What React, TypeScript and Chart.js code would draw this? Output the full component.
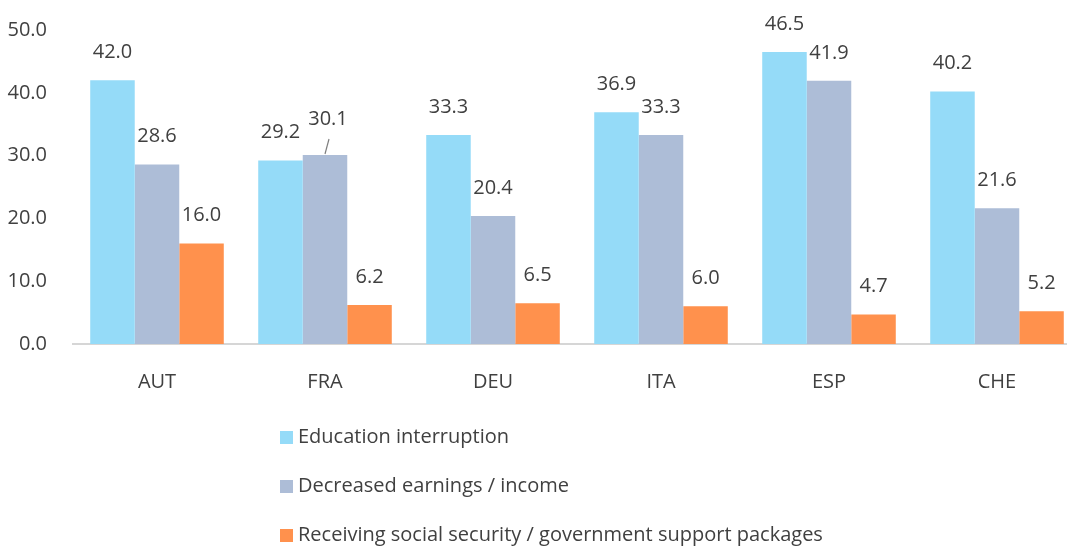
import React, { useEffect, useRef } from "react";
import { Chart, registerables } from "chart.js";

Chart.register(...registerables);

const categories = ["AUT", "FRA", "DEU", "ITA", "ESP", "CHE"];
const educationInterruption = [42.0, 29.2, 33.3, 36.9, 46.5, 40.2];
const decreasedEarnings = [28.6, 30.1, 20.4, 33.3, 41.9, 21.6];
const socialSecurity = [16.0, 6.2, 6.5, 6.0, 4.7, 5.2];
const seriesNames = [
  "Education interruption",
  "Decreased earnings / income",
  "Receiving social security / government support packages",
];
const seriesColors = ["#95dbf8", "#adbdd7", "#ff914d"];
const yTicks = [0, 10, 20, 30, 40, 50];

const FONT = "'Open Sans', sans-serif";
const TEXT = "#404040";

const labelsPlugin = {
  id: "valueLabels",
  afterDatasetsDraw(chart: any) {
    const ctx = chart.ctx;
    ctx.save();
    ctx.font = `20px ${FONT}`;
    ctx.fillStyle = TEXT;
    ctx.textAlign = "center";
    ctx.textBaseline = "middle";
    chart.data.datasets.forEach((ds: any, di: number) => {
      const meta = chart.getDatasetMeta(di);
      meta.data.forEach((bar: any, i: number) => {
        const v = ds.data[i];
        let x = bar.x;
        let y = bar.y - 28;
        // leader-line label (FRA, decreased earnings)
        if (di === 1 && i === 1) {
          x = bar.x + 3;
          y = bar.y - 36;
          ctx.save();
          ctx.strokeStyle = "#7f7f7f";
          ctx.lineWidth = 1.2;
          ctx.beginPath();
          ctx.moveTo(bar.x + 4, bar.y - 16);
          ctx.lineTo(bar.x, bar.y - 1);
          ctx.stroke();
          ctx.restore();
        }
        ctx.fillText(v.toFixed(1), x, y);
      });
    });
    ctx.restore();
  },
};

const legendPlugin = {
  id: "vertLegend",
  afterDraw(chart: any) {
    const ctx = chart.ctx;
    ctx.save();
    ctx.font = `20px ${FONT}`;
    ctx.textBaseline = "middle";
    ctx.textAlign = "left";
    const x0 = 280;
    const y0 = chart.chartArea.bottom + 93;
    chart.data.datasets.forEach((ds: any, i: number) => {
      const y = y0 + i * 49;
      ctx.fillStyle = ds.backgroundColor;
      ctx.fillRect(x0, y - 6, 13, 13);
      ctx.fillStyle = TEXT;
      ctx.fillText(ds.label, x0 + 18, y);
    });
    ctx.restore();
  },
};

export default function App() {
  const ref = useRef<HTMLCanvasElement>(null);
  useEffect(() => {
    if (!ref.current) return;
    const chart = new Chart(ref.current, {
      type: "bar",
      data: {
        labels: categories,
        datasets: [educationInterruption, decreasedEarnings, socialSecurity].map((d, i) => ({
          label: seriesNames[i],
          data: d,
          backgroundColor: seriesColors[i],
          borderWidth: 0,
          categoryPercentage: 0.795,
          barPercentage: 1.0,
        })),
      },
      options: {
        animation: false,
        responsive: false,
        maintainAspectRatio: false,
        layout: { padding: { top: 30, right: 0, left: 0, bottom: 0 } },
        plugins: { legend: { display: false }, tooltip: { enabled: false } },
        scales: {
          x: {
            grid: { display: false, drawTicks: false },
            border: { display: true, color: "#d6d6d6", width: 2 },
            ticks: { color: TEXT, font: { family: FONT, size: 20 }, padding: 26 },
            afterFit: (s: any) => {
              s.height = 206;
            },
          },
          y: {
            min: 0,
            max: 50,
            afterBuildTicks: (s: any) => {
              s.ticks = yTicks.map((v) => ({ value: v }));
            },
            grid: { display: false, drawTicks: false },
            border: { display: false },
            ticks: {
              color: TEXT,
              font: { family: FONT, size: 20 },
              padding: 26,
              callback: (v: any) => Number(v).toFixed(1),
            },
            afterFit: (s: any) => {
              s.width = 73;
              s.paddingTop = 0;
              s.paddingBottom = 0;
            },
          },
        },
      },
      plugins: [labelsPlugin, legendPlugin],
    });
    return () => chart.destroy();
  }, []);
  return (
    <div
      style={{
        position: "fixed",
        left: 0,
        top: 0,
        width: 1067,
        height: 550,
        overflow: "hidden",
        background: "#fff",
      }}
    >
      <canvas ref={ref} width={1081} height={550} />
    </div>
  );
}
